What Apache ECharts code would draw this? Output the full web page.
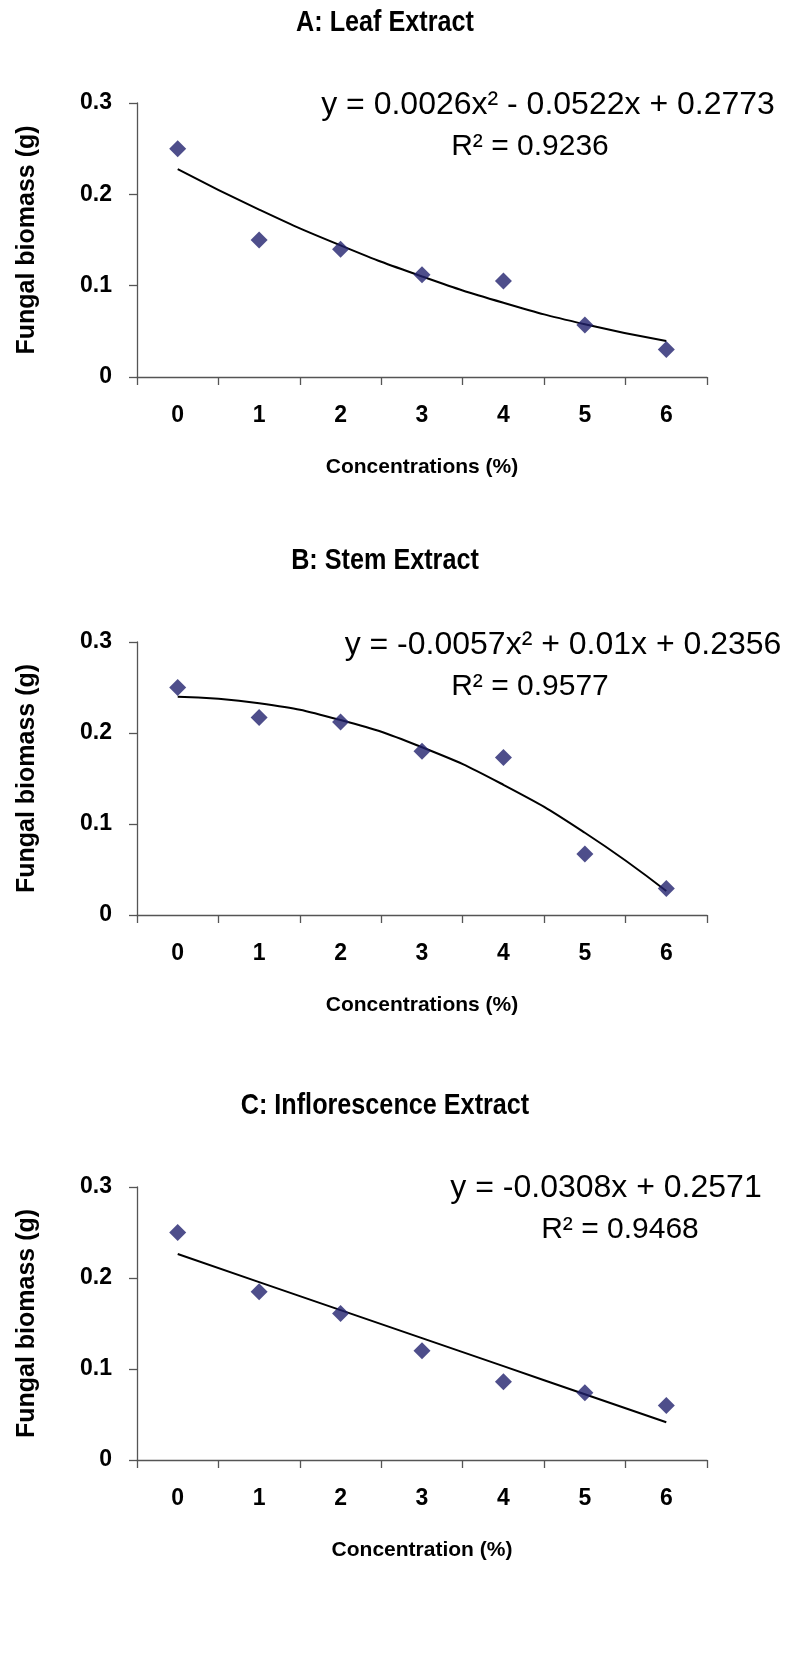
<!DOCTYPE html>
<html>
<head>
<meta charset="utf-8">
<script src="https://cdn.jsdelivr.net/npm/echarts@6/dist/echarts.min.js"></script>
<style>
html,body{margin:0;padding:0;background:#fff;}
#c{width:787px;height:1663px;}
</style>
</head>
<body>
<div id="c"></div>
<script>
const categories = ['0', '1', '2', '3', '4', '5', '6'];
const yTicks = [0, 0.1, 0.2, 0.3];

const leafBiomass = [0.25, 0.15, 0.14, 0.112, 0.105, 0.057, 0.03];
const leafTrend = [0.2277, 0.1833, 0.1441, 0.1101, 0.0813, 0.0577, 0.0393];

const stemBiomass = [0.25, 0.217, 0.212, 0.18, 0.173, 0.067, 0.029];
const stemTrend = [0.2399, 0.2328, 0.2143, 0.1844, 0.1431, 0.0904, 0.0263];

const inflBiomass = [0.25, 0.185, 0.161, 0.12, 0.086, 0.074, 0.06];
const inflTrend = [0.2263, 0.1955, 0.1647, 0.1339, 0.1031, 0.0723, 0.0415];

const panelTitles = ['A: Leaf Extract', 'B: Stem Extract', 'C: Inflorescence Extract'];
const xNames = ['Concentrations (%)', 'Concentrations (%)', 'Concentration (%)'];
const yName = 'Fungal biomass (g)';
const equations = [
  ['y = 0.0026x\u00B2 - 0.0522x + 0.2773', 'R\u00B2 = 0.9236'],
  ['y = -0.0057x\u00B2 + 0.01x + 0.2356', 'R\u00B2 = 0.9577'],
  ['y = -0.0308x + 0.2571', 'R\u00B2 = 0.9468']
];
const pointSets = [leafBiomass, stemBiomass, inflBiomass];
const trendSets = [leafTrend, stemTrend, inflTrend];

const FONT = "'Liberation Sans', Arial, Helvetica, sans-serif";
const axisColor = '#555';

const grids = [
  {left: 137, top: 103, width: 570, height: 274},
  {left: 137, top: 642, width: 570, height: 273},
  {left: 137, top: 1187, width: 570, height: 273}
];
const titleY = [23, 561, 1106];
const eqPos = [
  [[548, 105], [530, 147]],
  [[563, 645], [530, 687]],
  [[606, 1188], [620, 1230]]
];
const eqSize = [[32, 30], [32, 30], [32, 30]];

const xAxes = [], yAxes = [], series = [], graphics = [];
grids.forEach((g, i) => {
  xAxes.push({
    type: 'category', gridIndex: i, data: categories, boundaryGap: true,
    name: xNames[i], nameLocation: 'middle', nameGap: 80,
    nameTextStyle: {fontFamily: FONT, fontWeight: 'bold', fontSize: 21, color: '#000'},
    axisLine: {lineStyle: {color: axisColor, width: 1.3}},
    axisTick: {show: true, length: 8, lineStyle: {color: axisColor, width: 1.3}},
    axisLabel: {margin: 27, fontFamily: FONT, fontWeight: 'bold', fontSize: 23, color: '#000'},
    splitLine: {show: false}
  });
  yAxes.push({
    type: 'value', gridIndex: i, min: yTicks[0], max: yTicks[yTicks.length - 1], interval: 0.1,
    name: yName, nameLocation: 'middle', nameGap: 97, nameRotate: 90,
    nameTextStyle: {fontFamily: FONT, fontWeight: 'bold', fontSize: 25, color: '#000'},
    axisLine: {show: true, lineStyle: {color: axisColor, width: 1.3}},
    axisTick: {show: true, length: 8, lineStyle: {color: axisColor, width: 1.3}},
    axisLabel: {margin: 25, fontFamily: FONT, fontWeight: 'bold', fontSize: 23, color: '#000'},
    splitLine: {show: false}
  });
  series.push({
    type: 'line', xAxisIndex: i, yAxisIndex: i, data: trendSets[i],
    smooth: true, symbol: 'none', lineStyle: {color: '#000', width: 2}, z: 2, silent: true
  });
  series.push({
    type: 'scatter', xAxisIndex: i, yAxisIndex: i, data: pointSets[i],
    symbol: 'diamond', symbolSize: [17, 17], itemStyle: {color: '#22226e'}, z: 3
  });
  graphics.push({
    type: 'text', x: 385, y: titleY[i], scaleX: 0.84, scaleY: 1,
    style: {text: panelTitles[i], font: 'bold 30px ' + FONT, fill: '#000', textAlign: 'center', textVerticalAlign: 'middle'}
  });
  equations[i].forEach((t, j) => {
    graphics.push({
      type: 'text', x: eqPos[i][j][0], y: eqPos[i][j][1],
      style: {text: t, font: eqSize[i][j] + 'px ' + FONT, fill: '#000', textAlign: 'center', textVerticalAlign: 'middle'}
    });
  });
});

const chart = echarts.init(document.getElementById('c'), null, {renderer: 'canvas'});
chart.setOption({
  animation: false,
  backgroundColor: '#fff',
  grid: grids,
  xAxis: xAxes,
  yAxis: yAxes,
  series: series,
  graphic: graphics
});
</script>
</body>
</html>
